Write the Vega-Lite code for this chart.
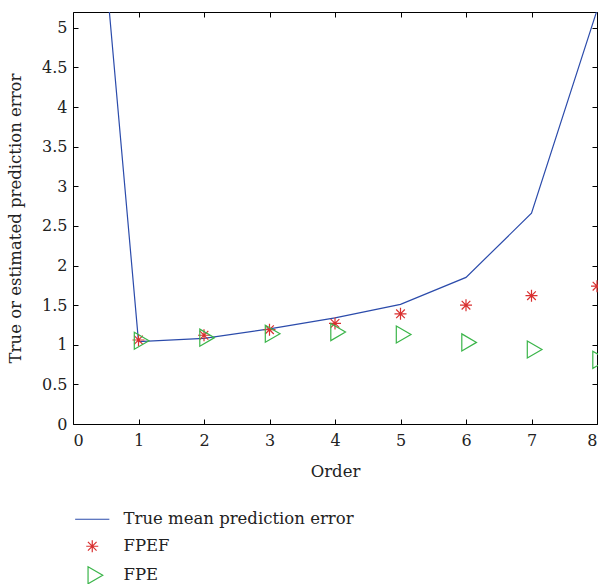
{
  "$schema": "https://vega.github.io/schema/vega-lite/v6.json",
  "width": 524,
  "height": 412,
  "autosize": {"type": "none"},
  "padding": {"left": 73, "top": 12, "right": 1, "bottom": 160},
  "background": "white",
  "config": {
    "font": "DejaVu Serif",
    "view": {"stroke": "#000", "strokeWidth": 1},
    "axis": {
      "grid": false,
      "domain": false,
      "tickColor": "#000",
      "tickSize": -5,
      "labelFont": "DejaVu Serif",
      "labelFontSize": 16,
      "labelColor": "#222",
      "titleFont": "DejaVu Serif",
      "titleFontSize": 16.5,
      "titleFontWeight": "normal",
      "titleColor": "#222"
    },
    "legend": {
      "orient": "none",
      "legendX": 11,
      "legendY": 499,
      "padding": 0,
      "labelFont": "DejaVu Serif",
      "labelFontSize": 16.5,
      "labelColor": "#222",
      "labelLimit": 0,
      "symbolSize": 144,
      "symbolStrokeWidth": 1.2,
      "symbolFillColor": "transparent",
      "labelOffset": 23,
      "rowPadding": 9
    }
  },
  "datasets": {
    "truth": [
      {"order": 0, "error": 10.4, "series": "True mean prediction error"},
      {"order": 1, "error": 1.04, "series": "True mean prediction error"},
      {"order": 2, "error": 1.08, "series": "True mean prediction error"},
      {"order": 3, "error": 1.2, "series": "True mean prediction error"},
      {"order": 4, "error": 1.34, "series": "True mean prediction error"},
      {"order": 5, "error": 1.51, "series": "True mean prediction error"},
      {"order": 6, "error": 1.85, "series": "True mean prediction error"},
      {"order": 7, "error": 2.66, "series": "True mean prediction error"},
      {"order": 8, "error": 5.22, "series": "True mean prediction error"}
    ],
    "est": [
      {"order": 1, "error": 1.06, "series": "FPEF"},
      {"order": 2, "error": 1.12, "series": "FPEF"},
      {"order": 3, "error": 1.19, "series": "FPEF"},
      {"order": 4, "error": 1.27, "series": "FPEF"},
      {"order": 5, "error": 1.39, "series": "FPEF"},
      {"order": 6, "error": 1.5, "series": "FPEF"},
      {"order": 7, "error": 1.62, "series": "FPEF"},
      {"order": 8, "error": 1.74, "series": "FPEF"},
      {"order": 1, "error": 1.05, "series": "FPE"},
      {"order": 2, "error": 1.09, "series": "FPE"},
      {"order": 3, "error": 1.14, "series": "FPE"},
      {"order": 4, "error": 1.16, "series": "FPE"},
      {"order": 5, "error": 1.13, "series": "FPE"},
      {"order": 6, "error": 1.03, "series": "FPE"},
      {"order": 7, "error": 0.94, "series": "FPE"},
      {"order": 8, "error": 0.81, "series": "FPE"}
    ]
  },
  "layer": [
    {
      "data": {"name": "truth"},
      "mark": {"type": "line", "clip": true, "strokeWidth": 1.2},
      "encoding": {
        "x": {
          "field": "order", "type": "quantitative",
          "scale": {"domain": [0, 8], "nice": false, "zero": false},
          "axis": {"orient": "top", "labels": false, "title": null, "values": [0, 1, 2, 3, 4, 5, 6, 7, 8]}
        },
        "y": {
          "field": "error", "type": "quantitative",
          "scale": {"domain": [0, 5.2], "nice": false},
          "axis": {"orient": "right", "labels": false, "title": null, "values": [0, 0.5, 1, 1.5, 2, 2.5, 3, 3.5, 4, 4.5, 5]}
        },
        "color": {
          "field": "series", "type": "nominal",
          "scale": {"domain": ["True mean prediction error", "FPEF", "FPE"], "range": ["#2b4bab", "#d93030", "#3bb54a"]},
          "legend": {"title": null}
        }
      }
    },
    {
      "data": {"name": "est"},
      "mark": {"type": "point", "filled": false, "size": 144, "strokeWidth": 1.2, "opacity": 1},
      "encoding": {
        "x": {
          "field": "order", "type": "quantitative",
          "axis": {"orient": "bottom", "title": "Order", "values": [0, 1, 2, 3, 4, 5, 6, 7, 8], "labelPadding": 13, "titlePadding": 15}
        },
        "y": {
          "field": "error", "type": "quantitative",
          "axis": {"orient": "left", "title": "True or estimated prediction error", "values": [0, 0.5, 1, 1.5, 2, 2.5, 3, 3.5, 4, 4.5, 5], "format": "~g", "labelPadding": 11, "titlePadding": 18}
        },
        "color": {
          "field": "series", "type": "nominal",
          "scale": {"domain": ["True mean prediction error", "FPEF", "FPE"], "range": ["#2b4bab", "#d93030", "#3bb54a"]},
          "legend": {"title": null}
        },
        "shape": {
          "field": "series", "type": "nominal",
          "scale": {
            "domain": ["True mean prediction error", "FPEF", "FPE"],
            "range": ["M-2.85,0L2.85,0", "M-1,0L1,0M0,-1L0,1M-0.72,-0.72L0.72,0.72M-0.72,0.72L0.72,-0.72", "M-0.7,-1.42L1.75,0L-0.7,1.42Z"]
          },
          "legend": {"title": null}
        }
      }
    }
  ]
}
